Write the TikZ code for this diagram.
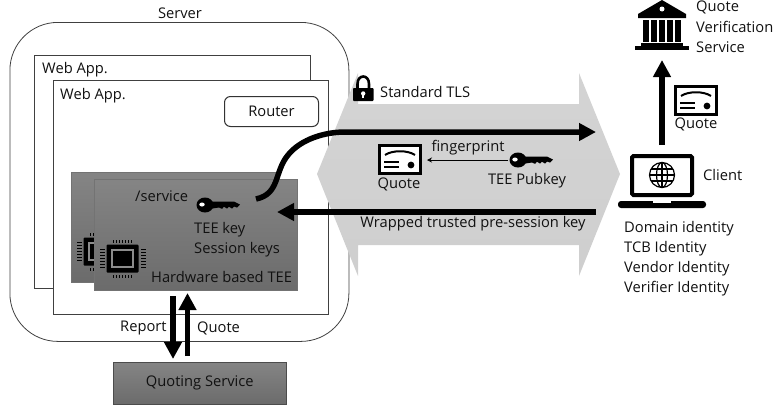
\documentclass[tikz,border=0pt]{standalone}
\usepackage{fontspec}
\setmainfont{Open Sans}
\usetikzlibrary{arrows.meta,calc}
\definecolor{ink}{HTML}{111111}
\tikzset{
  x=1pt,y=-1pt,
  txt/.style={inner sep=0pt,text=ink,font=\fontsize{14.7}{16}\selectfont},
  ltxt/.style={txt,anchor=west},
  outline/.style={draw=black!75,line width=.8pt,fill=white,anchor=north west,inner sep=0pt},
  routerbox/.style={outline,rounded corners=6pt,line width=1pt,draw=black!80},
  teebox/.style={anchor=north west,inner sep=0pt,draw=black!55,line width=.6pt,top color=black!48,bottom color=black!58},
  thick arrow/.style={-{Triangle[length=17pt,width=17pt]},line width=5.5pt,black},
  thin arrow/.style={-{Stealth[length=5pt,width=5pt]},line width=.7pt,black},
  pics/cert/.style={code={
    \draw[black,line width=2.6pt,fill=white] (1.3,1.3) rectangle (42.7,29.7);
    \draw[black,line width=2pt] (7,11) .. controls (14,6) and (30,6) .. (37,11);
    \draw[black,line width=1.6pt] (6,18) -- (21,18) (6,23) -- (21,23);
    \fill[black] (33,21) circle (3.4);
  }},
  pics/keyicon/.style={code={
    \fill[black] (8,0) ellipse (8.5 and 7.5);
    \fill[black] (12,-3.5) -- (37,-3.5) -- (43,-.5) -- (40,2.5) -- (37,1.5) -- (35,3.5) -- (32,1.7) -- (30,3.5) -- (27,1.7) -- (25,3.8) -- (22,2.5) -- (12,4) -- cycle;
    \fill[white] (5,-.5) ellipse (2.7 and 2);
  }},
  pics/chip/.style={code={
    \fill[black,rounded corners=1pt] (-16,-14) rectangle (16,14);
    \draw[black!45,line width=1.2pt] (-10.5,-8.5) rectangle (10.5,8.5);
    \foreach \k in {-9,-6,-3,0,3,6,9}{
      \fill[black] (\k-.8,-19) rectangle (\k+.8,-16);
      \fill[black] (\k-.8,16) rectangle (\k+.8,19);
    }
    \foreach \k in {-9,-6,-3,0,3,6,9}{
      \fill[black] (-23,\k-.7) rectangle (-18,\k+.7);
      \fill[black] (18,\k-.7) rectangle (23,\k+.7);
    }
  }},
}
\begin{document}
\begin{tikzpicture}
\useasboundingbox (0,0) rectangle (773,405);
% containers
\node[outline,rounded corners=48pt,minimum width=339pt,minimum height=319pt] (server) at (9.5,22) {};
\node[txt] (servertxt) at (180,13) {Server};
\node[outline,minimum width=276pt,minimum height=233pt] (webA) at (34,55) {};
\node[ltxt] (webAtxt) at (42,70) {Web App.};
\node[outline,minimum width=275pt,minimum height=234pt] (webB) at (53,80) {};
\node[ltxt] (webBtxt) at (60,96) {Web App.};
\node[routerbox,minimum width=94pt,minimum height=30pt] (router) at (224,96) {};
\node[txt] at (router.center) {Router};
% TEEs
\node[teebox,minimum width=204pt,minimum height=110pt] (teeA) at (71,172) {};
\pic at (99.5,251.5) {chip};
\node[teebox,minimum width=203pt,minimum height=111pt] (teeB) at (94,179) {};
\pic at (122.5,258.5) {chip};
\node[ltxt] (svc) at (135,196) {/service};
\pic at (197,205) {keyicon};
\coordinate (keyout) at (256,199);
\node[ltxt] (teekey) at (194,230) {TEE key};
\node[ltxt] (sesskey) at (194,250) {Session keys};
\node[ltxt] (hwtee) at (151,277) {Hardware based TEE};
% Quoting service
\node[teebox,draw=black!70,minimum width=173pt,minimum height=42pt] (qs) at (113,362) {};
\node[txt] at (qs.center) {Quoting Service};
\coordinate (repFrom) at (173,296);
\coordinate (repTo) at (173,359);
\coordinate (quoFrom) at (187.5,356);
\coordinate (quoTo) at (187.5,293);
\draw[thick arrow] (repFrom) -- (repTo);
\draw[thick arrow] (quoFrom) -- (quoTo);
\node[ltxt] (report) at (120,328) {Report};
\node[ltxt] (quoteq) at (197,328) {Quote};
% TLS tunnel
\path[top color=black!17,middle color=black!22,bottom color=black!19]
  (317,174) -- (358,73) -- (358,104) -- (579,104) -- (579,73) -- (620,174) -- (579,276) -- (579,245) -- (358,245) -- (358,276) -- cycle;
% lock
\draw[black,line width=2.6pt] (357.5,90) -- (357.5,84) .. controls (357.5,74) and (369,74) .. (369,84) -- (369,90);
\fill[black,rounded corners=.8pt] (353,88) rectangle (373.5,101);
\fill[white] (363.2,93.5) circle (2.2);
\fill[white] (362.2,94) rectangle (364.2,98);
\node[ltxt] (tls) at (380,92) {Standard TLS};
% tunnel content
\coordinate (tlsR) at (596,132);
\coordinate (wrapFrom) at (596,212);
\coordinate (wrapTo) at (277,212);
\draw[thick arrow] (keyout) .. controls (280,194) and (274,172) .. (288,155) .. controls (301,139) and (325,132) .. (345,132) -- (tlsR);
\draw[thick arrow] (wrapFrom) -- (wrapTo);
\pic at (378,144) {cert};
\node[txt] (qm) at (399,184) {Quote};
\node[txt] (fp) at (468,148) {fingerprint};
\pic at (510,160) {keyicon};
\coordinate (fpFrom) at (508,160);
\coordinate (fpTo) at (427,160);
\draw[thin arrow] (fpFrom) -- (fpTo);
\node[txt] (pub) at (527,181) {TEE Pubkey};
\node[txt] (wrap) at (473,224) {Wrapped trusted pre-session key};
% client
\draw[black,line width=4pt,fill=white,rounded corners=1.5pt] (632,156) rectangle (692,195);
\fill[black,rounded corners=3pt] (618,201) rectangle (706,208);
\fill[white] (653,201) rectangle (671,203);
\begin{scope}[black,line width=1.2pt]
  \draw (662,175) circle (12.5);
  \draw (662,175) ellipse (5.5 and 12.5);
  \draw (649.5,175) -- (674.5,175) (651,169) -- (673,169) (651,181) -- (673,181) (662,162.5) -- (662,187.5);
\end{scope}
\node[ltxt] (client) at (703,175) {Client};
\coordinate (cliUp) at (662,145);
\coordinate (qvsDown) at (662,60);
\draw[thick arrow] (cliUp) -- (qvsDown);
\pic at (674,85) {cert};
\node[txt] (qr) at (696,124) {Quote};
% bank
\fill[black] (662,0) -- (686,14) -- (686,18) -- (638,18) -- (638,14) -- cycle;
\fill[white] (662,9) circle (2.5);
\foreach \cx in {646,654,662,670,678}{\fill[black] (\cx-2.6,20) rectangle (\cx+2.6,42);}
\fill[black] (641,43) rectangle (683,46);
\fill[black] (635,46) rectangle (689,50);
\node[ltxt] (qvs1) at (696,7) {Quote};
\node[ltxt] (qvs2) at (696,27) {Verification};
\node[ltxt] (qvs3) at (696,47) {Service};
% identities
\node[ltxt] (id1) at (624,229) {Domain identity};
\node[ltxt] (id2) at (624,249) {TCB Identity};
\node[ltxt] (id3) at (624,269) {Vendor Identity};
\node[ltxt] (id4) at (624,289) {Verifier Identity};
\end{tikzpicture}
\end{document}
